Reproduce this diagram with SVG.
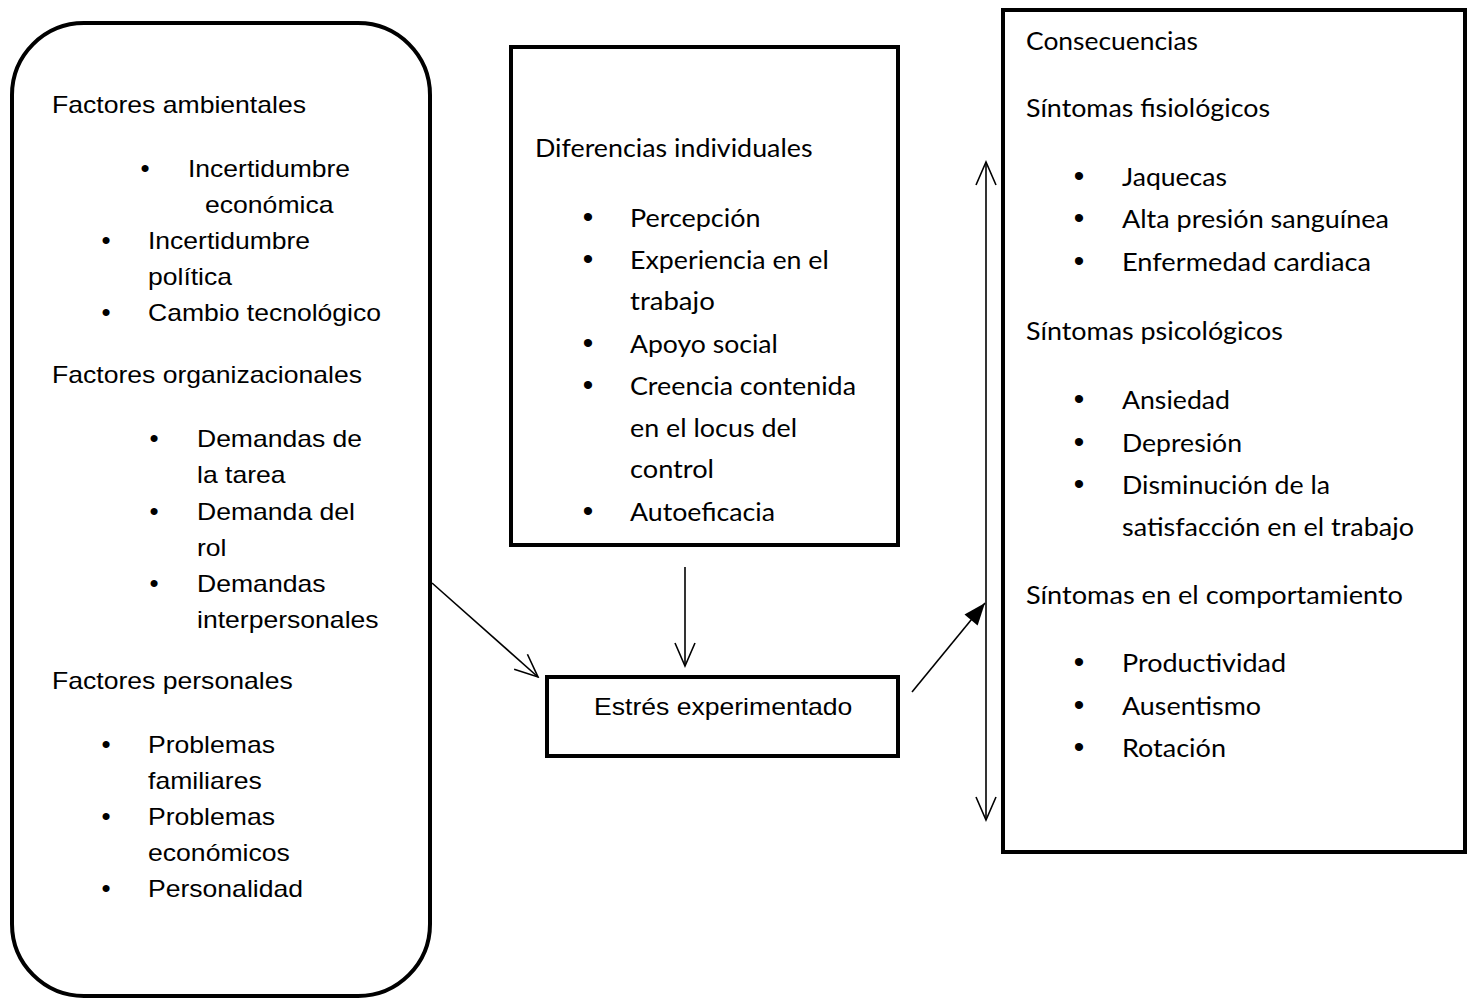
<svg xmlns="http://www.w3.org/2000/svg" width="1475" height="1000" viewBox="0 0 1475 1000">
  <style>
    .box { fill: #ffffff; stroke: #000000; stroke-width: 4; }
    .a { font-family: "Liberation Sans", Arial, sans-serif; font-size: 24px; fill: #000000; }
    .c { font-family: Lato, "Noto Sans", sans-serif; font-size: 24.5px; fill: #000000; }
    .b { font-family: "Liberation Sans", Arial, sans-serif; font-size: 26px; fill: #000000; text-anchor: middle; }
    .bc { font-family: "Liberation Sans", Arial, sans-serif; font-size: 30px; fill: #000000; text-anchor: middle; }
    .conn { fill: none; stroke: #000000; stroke-width: 1.6; }
  </style>
  <defs>
    <marker id="open" viewBox="-26 -13 28 26" refX="0" refY="0" markerWidth="28" markerHeight="26" markerUnits="userSpaceOnUse" orient="auto-start-reverse">
      <path d="M-23,-10 L0,0 L-23,10" fill="none" stroke="#000000" stroke-width="1.6"/>
    </marker>
    <marker id="filled" viewBox="-24 -11 26 22" refX="0" refY="0" markerWidth="26" markerHeight="22" markerUnits="userSpaceOnUse" orient="auto">
      <path d="M-22,-8.5 L0,0 L-22,8.5 Z" fill="#000000" stroke="none"/>
    </marker>
  </defs>
  <rect x="0" y="0" width="1475" height="1000" fill="#ffffff"/>

  <g id="factores">
    <rect class="box" x="12" y="23" width="418" height="973" rx="72" ry="72"/>
    <text class="a" x="52" y="113" textLength="254" lengthAdjust="spacingAndGlyphs">Factores ambientales</text>
    <text class="b" x="145" y="177">•</text>
    <text class="a" x="188" y="177" textLength="162" lengthAdjust="spacingAndGlyphs">Incertidumbre</text>
    <text class="a" x="205" y="213" textLength="128.5" lengthAdjust="spacingAndGlyphs">económica</text>
    <text class="b" x="106" y="249">•</text>
    <text class="a" x="148" y="249" textLength="162" lengthAdjust="spacingAndGlyphs">Incertidumbre</text>
    <text class="a" x="148" y="285" textLength="84" lengthAdjust="spacingAndGlyphs">política</text>
    <text class="b" x="106" y="321">•</text>
    <text class="a" x="148" y="321" textLength="233" lengthAdjust="spacingAndGlyphs">Cambio tecnológico</text>
    <text class="a" x="52" y="383" textLength="310" lengthAdjust="spacingAndGlyphs">Factores organizacionales</text>
    <text class="b" x="154" y="447">•</text>
    <text class="a" x="197" y="447" textLength="165" lengthAdjust="spacingAndGlyphs">Demandas de</text>
    <text class="a" x="197" y="483" textLength="88.6" lengthAdjust="spacingAndGlyphs">la tarea</text>
    <text class="b" x="154" y="520">•</text>
    <text class="a" x="197" y="520" textLength="158" lengthAdjust="spacingAndGlyphs">Demanda del</text>
    <text class="a" x="197" y="556" textLength="29.5" lengthAdjust="spacingAndGlyphs">rol</text>
    <text class="b" x="154" y="592">•</text>
    <text class="a" x="197" y="592" textLength="128.5" lengthAdjust="spacingAndGlyphs">Demandas</text>
    <text class="a" x="197" y="628" textLength="181.6" lengthAdjust="spacingAndGlyphs">interpersonales</text>
    <text class="a" x="52" y="689" textLength="240.7" lengthAdjust="spacingAndGlyphs">Factores personales</text>
    <text class="b" x="106" y="753">•</text>
    <text class="a" x="148" y="753" textLength="127" lengthAdjust="spacingAndGlyphs">Problemas</text>
    <text class="a" x="148" y="789" textLength="113.7" lengthAdjust="spacingAndGlyphs">familiares</text>
    <text class="b" x="106" y="825">•</text>
    <text class="a" x="148" y="825" textLength="127" lengthAdjust="spacingAndGlyphs">Problemas</text>
    <text class="a" x="148" y="861" textLength="141.8" lengthAdjust="spacingAndGlyphs">económicos</text>
    <text class="b" x="106" y="897">•</text>
    <text class="a" x="148" y="897" textLength="155" lengthAdjust="spacingAndGlyphs">Personalidad</text>
  </g>

  <g id="diferencias">
    <rect class="box" x="511" y="47" width="387" height="498"/>
    <text class="c" x="535" y="157" textLength="277.5" lengthAdjust="spacingAndGlyphs">Diferencias individuales</text>
    <text class="bc" x="588" y="227">•</text>
    <text class="c" x="630" y="227" textLength="130.5" lengthAdjust="spacingAndGlyphs">Percepción</text>
    <text class="bc" x="588" y="269">•</text>
    <text class="c" x="630" y="269" textLength="198.8" lengthAdjust="spacingAndGlyphs">Experiencia en el</text>
    <text class="c" x="630" y="310" textLength="84.8" lengthAdjust="spacingAndGlyphs">trabajo</text>
    <text class="bc" x="588" y="353">•</text>
    <text class="c" x="630" y="353" textLength="147.8" lengthAdjust="spacingAndGlyphs">Apoyo social</text>
    <text class="bc" x="588" y="395">•</text>
    <text class="c" x="630" y="395" textLength="226" lengthAdjust="spacingAndGlyphs">Creencia contenida</text>
    <text class="c" x="630" y="437" textLength="167" lengthAdjust="spacingAndGlyphs">en el locus del</text>
    <text class="c" x="630" y="478" textLength="84" lengthAdjust="spacingAndGlyphs">control</text>
    <text class="bc" x="588" y="521">•</text>
    <text class="c" x="630" y="521" textLength="145" lengthAdjust="spacingAndGlyphs">Autoeficacia</text>
  </g>

  <g id="estres">
    <rect class="box" x="547" y="677" width="351" height="79"/>
    <text class="a" x="594" y="715" textLength="258.4" lengthAdjust="spacingAndGlyphs">Estrés experimentado</text>
  </g>

  <g id="consecuencias">
    <rect class="box" x="1003" y="10" width="462" height="842"/>
    <text class="c" x="1026" y="50" textLength="172" lengthAdjust="spacingAndGlyphs">Consecuencias</text>
    <text class="c" x="1026" y="117" textLength="244" lengthAdjust="spacingAndGlyphs">Síntomas fisiológicos</text>
    <text class="bc" x="1079" y="186">•</text>
    <text class="c" x="1122" y="186" textLength="105" lengthAdjust="spacingAndGlyphs">Jaquecas</text>
    <text class="bc" x="1079" y="228">•</text>
    <text class="c" x="1122" y="228" textLength="267" lengthAdjust="spacingAndGlyphs">Alta presión sanguínea</text>
    <text class="bc" x="1079" y="271">•</text>
    <text class="c" x="1122" y="271" textLength="249" lengthAdjust="spacingAndGlyphs">Enfermedad cardiaca</text>
    <text class="c" x="1026" y="340" textLength="257" lengthAdjust="spacingAndGlyphs">Síntomas psicológicos</text>
    <text class="bc" x="1079" y="409">•</text>
    <text class="c" x="1122" y="409" textLength="108" lengthAdjust="spacingAndGlyphs">Ansiedad</text>
    <text class="bc" x="1079" y="452">•</text>
    <text class="c" x="1122" y="452" textLength="120" lengthAdjust="spacingAndGlyphs">Depresión</text>
    <text class="bc" x="1079" y="494">•</text>
    <text class="c" x="1122" y="494" textLength="208" lengthAdjust="spacingAndGlyphs">Disminución de la</text>
    <text class="c" x="1122" y="536" textLength="292" lengthAdjust="spacingAndGlyphs">satisfacción en el trabajo</text>
    <text class="c" x="1026" y="604" textLength="377" lengthAdjust="spacingAndGlyphs">Síntomas en el comportamiento</text>
    <text class="bc" x="1079" y="672">•</text>
    <text class="c" x="1122" y="672" textLength="164" lengthAdjust="spacingAndGlyphs">Productividad</text>
    <text class="bc" x="1079" y="715">•</text>
    <text class="c" x="1122" y="715" textLength="139" lengthAdjust="spacingAndGlyphs">Ausentismo</text>
    <text class="bc" x="1079" y="757">•</text>
    <text class="c" x="1122" y="757" textLength="104" lengthAdjust="spacingAndGlyphs">Rotación</text>
  </g>

  <g id="connectors">
    <line class="conn" x1="432" y1="583" x2="538" y2="677" marker-end="url(#open)"/>
    <line class="conn" x1="685" y1="567" x2="685" y2="666" marker-end="url(#open)"/>
    <line class="conn" x1="912" y1="692" x2="985" y2="603" marker-end="url(#filled)"/>
    <line class="conn" x1="986" y1="162" x2="986" y2="820" marker-start="url(#open)" marker-end="url(#open)"/>
  </g>
</svg>
